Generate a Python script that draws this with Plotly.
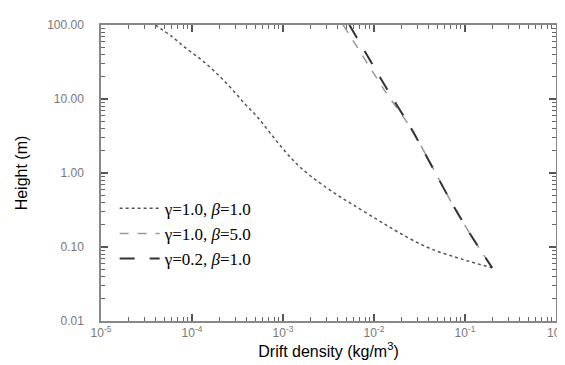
import plotly.graph_objects as go

# gamma=1.0, beta=1.0
x1 = [3.94e-5, 6.0e-5, 8.69e-5, 1.26e-4, 1.83e-4, 2.65e-4, 3.85e-4, 5.19e-4, 7.16e-4,
      1.04e-3, 1.40e-3, 1.93e-3, 2.80e-3, 4.06e-3, 5.89e-3, 0.01094, 0.01888, 0.0397, 0.0900, 0.199]
y1 = [100.0, 69.8, 48.1, 34.1, 22.7, 14.3, 8.47, 5.78, 3.51,
      2.00, 1.34, 0.948, 0.673, 0.493, 0.372, 0.233, 0.156, 0.0975, 0.0692, 0.0522]
# gamma=1.0, beta=5.0
x2 = [4.59e-3, 0.01334, 0.0261, 0.0703, 0.1153, 0.199]
y2 = [100.0, 12.6, 3.85, 0.409, 0.146, 0.0522]
# gamma=0.2, beta=1.0
x3 = [5.37e-3, 0.0140, 0.0261, 0.0703, 0.1153, 0.199]
y3 = [100.0, 13.4, 3.85, 0.409, 0.146, 0.0522]

names = ["γ=1.0, <i>β</i>=1.0", "γ=1.0, <i>β</i>=5.0", "γ=0.2, <i>β</i>=1.0"]

ytickvals = [100, 10, 1, 0.1, 0.01]
yticktext = ["100.00", "10.00", "1.00", "0.10", "0.01"]
xtickvals = [1e-5, 1e-4, 1e-3, 1e-2, 1e-1, 1]
xticktext = ["10<sup>-5</sup>", "10<sup>-4</sup>", "10<sup>-3</sup>", "10<sup>-2</sup>", "10<sup>-1</sup>", "10<sup>0</sup>"]

minor_x = [m * 10.0 ** e for e in range(-5, 0) for m in range(2, 10)]
minor_y = [m * 10.0 ** e for e in range(-2, 2) for m in range(2, 10)]

fig = go.Figure()
fig.add_trace(go.Scatter(x=x1, y=y1, mode="lines", name=names[0],
                         line=dict(color="#555555", width=1.5, dash="dot", shape="spline", smoothing=1.0)))
fig.add_trace(go.Scatter(x=x2, y=y2, mode="lines", name=names[1],
                         line=dict(color="#999999", width=1.5, dash="dash", shape="spline", smoothing=0.6)))
fig.add_trace(go.Scatter(x=x3, y=y3, mode="lines", name=names[2],
                         line=dict(color="#333333", width=2, dash="longdash", shape="spline", smoothing=0.6)))
# invisible trace on the overlay axes carrying the minor ticks
fig.add_trace(go.Scatter(x=[1e-5, 1], y=[0.01, 100], xaxis="x2", yaxis="y2", mode="lines",
                         line=dict(width=0), opacity=0, showlegend=False, hoverinfo="skip"))

axis_common = dict(
    type="log", showgrid=False, zeroline=False, mirror="allticks",
    showline=True, linecolor="#888888", linewidth=1.5,
    ticks="inside", ticklen=7, tickcolor="#555555", tickwidth=1.5,
    tickfont=dict(family="Arial, Liberation Sans", size=12, color="#777777"),
    title_font=dict(family="Arial, Liberation Sans", size=16, color="#000000"),
)
minor_common = dict(
    type="log", showgrid=False, zeroline=False, mirror="allticks", showline=False,
    ticks="inside", ticklen=4, tickcolor="#666666", tickwidth=1, showticklabels=False,
)

fig.update_layout(
    width=565, height=365,
    margin=dict(l=93, r=8, t=17, b=52),
    paper_bgcolor="white", plot_bgcolor="white",
    xaxis=dict(**axis_common, range=[-5, 0], tickmode="array", tickvals=xtickvals, ticktext=xticktext,
               title_text="Drift density (kg/m<sup>3</sup>)", title_standoff=6, ticklabelstandoff=0),
    yaxis=dict(**axis_common, range=[-2, 2], tickmode="array", tickvals=ytickvals, ticktext=yticktext,
               title_text="Height (m)", title_standoff=16, ticklabelstandoff=13),
    xaxis2=dict(**minor_common, range=[-5, 0], tickmode="array", tickvals=minor_x, overlaying="x", side="bottom", anchor="y"),
    yaxis2=dict(**minor_common, range=[-2, 2], tickmode="array", tickvals=minor_y, overlaying="y", side="left", anchor="x"),
    legend=dict(x=0.03, y=0.44, xanchor="left", yanchor="top",
                font=dict(family="Liberation Serif, Times New Roman", size=17, color="#000000"),
                bgcolor="rgba(0,0,0,0)", tracegroupgap=0, itemwidth=40),
    showlegend=True,
)

fig.write_html("out.html")
